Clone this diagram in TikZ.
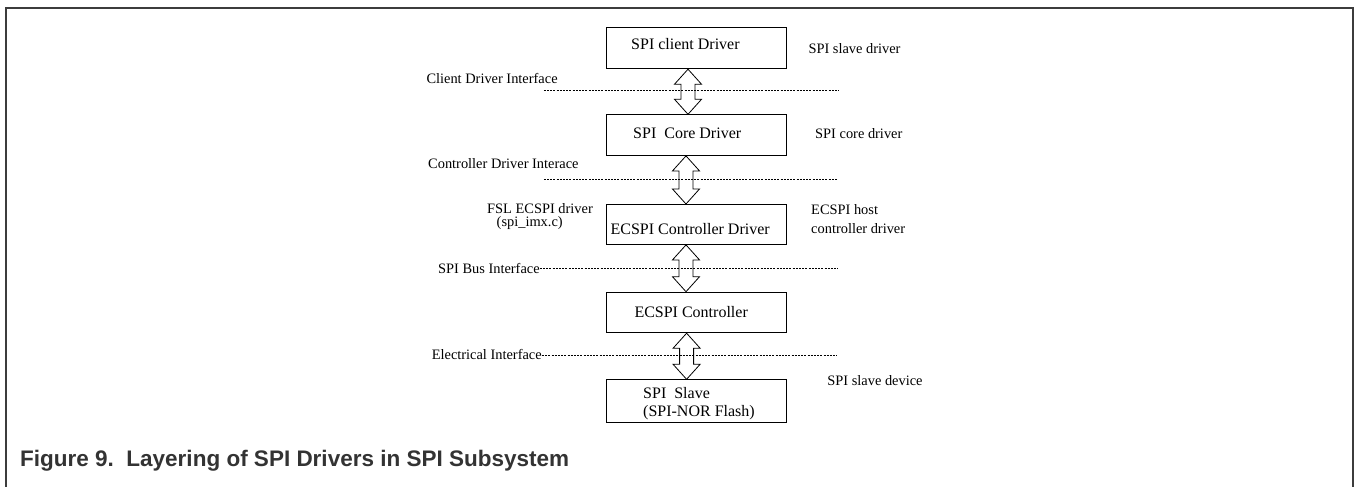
\documentclass[tikz,border=0pt]{standalone}
\usepackage{fontspec}
\setmainfont{Liberation Serif}
\newfontfamily\capfont{Liberation Sans}
\usetikzlibrary{calc}
\definecolor{framegray}{HTML}{3C3C3C}
\definecolor{capgray}{HTML}{333333}
\tikzset{
  layerbox/.style={draw=black, line width=0.9pt, minimum width=180.5pt, inner sep=0pt, anchor=north west},
  boxtxt/.style={font=\fontsize{16}{19}\selectfont, inner sep=0pt, anchor=base west},
  lbl/.style={font=\fontsize{14.4}{17}\selectfont, inner sep=0pt, anchor=base west},
  ifline/.style={draw=black, line width=0.7pt, dash pattern=on 2pt off 1.2pt},
  arr/.style={draw=black, line width=0.8pt, line join=miter},
  framestyle/.style={draw=framegray, line width=2.3pt},
  captxt/.style={font=\capfont\bfseries\fontsize{22.5}{26}\selectfont, text=capgray, inner sep=0pt, anchor=base west}
}
\newcommand\dblarr[3]{%
  \draw[arr] let \p1=(#1.south), \p2=(#2.north) in
    ({#3},{\y1}) -- ({#3+13.5pt},{\y1-15pt}) -- ({#3+7pt},{\y1-15pt})
    -- ({#3+7pt},{\y2+15pt}) -- ({#3+13.5pt},{\y2+15pt}) -- ({#3},{\y2})
    -- ({#3-13.5pt},{\y2+15pt}) -- ({#3-7pt},{\y2+15pt})
    -- ({#3-7pt},{\y1-15pt}) -- ({#3-13.5pt},{\y1-15pt}) -- cycle;}
\begin{document}
\begin{tikzpicture}[x=1pt,y=-1pt]
\useasboundingbox (0,0) rectangle (1354,487);
% frame
\coordinate (fbl) at (6,487);
\coordinate (ftl) at (6,8);
\coordinate (ftr) at (1352.8,8);
\coordinate (fbr) at (1352.8,487);
\draw[framestyle] (fbl) -- (ftl) -- (ftr) -- (fbr);

% boxes
\node[layerbox, minimum height=41pt] (b1) at (605.5,27.3) {};
\node[layerbox, minimum height=40.7pt] (b2) at (605.5,114.3) {};
\node[layerbox, minimum height=40pt] (b3) at (605.5,204) {};
\node[layerbox, minimum height=40.6pt] (b4) at (605.5,291.7) {};
\node[layerbox, minimum height=42.2pt] (b5) at (605.5,379.3) {};

% box texts
\node[boxtxt] (t1) at (631,49.5) {SPI client Driver};
\node[boxtxt] (t2) at (633,138.6) {SPI\ \ Core Driver};
\node[boxtxt] (t3) at (610.4,234.6) {ECSPI Controller Driver};
\node[boxtxt] (t4) at (634.3,317) {ECSPI Controller};
\node[boxtxt] (t5a) at (643,398) {SPI\ \ Slave};
\node[boxtxt] (t5b) at (643,416) {(SPI-NOR Flash)};

% side labels
\node[lbl] (s1) at (808.3,53.3) {SPI slave driver};
\node[lbl] (s2) at (815,138) {SPI core driver};
\node[lbl] (s3a) at (811,214.8) {ECSPI host};
\node[lbl] (s3b) at (811,233) {controller driver};
\node[lbl] (s5) at (827.2,385.5) {SPI slave device};

% interface labels
\node[lbl] (i1) at (426.3,83.8) {Client Driver Interface};
\node[lbl] (i2) at (428,168) {Controller Driver Interace};
\node[lbl] (f1) at (487,213) {FSL ECSPI driver};
\node[lbl] (f2) at (496.5,226.8) {(spi\_imx.c)};
\node[lbl] (i3) at (437.9,273) {SPI Bus Interface};
\node[lbl] (i4) at (431.6,359.8) {Electrical Interface};

% dashed interface lines
\coordinate (d1s) at (543.8,90.7);
\coordinate (d1e) at (838.4,90.7);
\coordinate (d2s) at (543.8,179);
\coordinate (d2e) at (837.7,179);
\coordinate (d3e) at (837.7,268.3);
\coordinate (d4e) at (836.7,355);
\draw[ifline] (d1s) -- (d1e);
\draw[ifline] (d2s) -- (d2e);
\draw[ifline] (d3e -| i3.east) -- (d3e);
\draw[ifline] (d4e -| i4.east) -- (d4e);

% double arrows
\dblarr{b1}{b2}{688pt}
\dblarr{b2}{b3}{686pt}
\dblarr{b3}{b4}{686pt}
\dblarr{b4}{b5}{686.6pt}

% caption
\node[captxt] (cap) at (20,466) {Figure 9.\ \ Layering of SPI Drivers in SPI Subsystem};
\end{tikzpicture}
\end{document}
